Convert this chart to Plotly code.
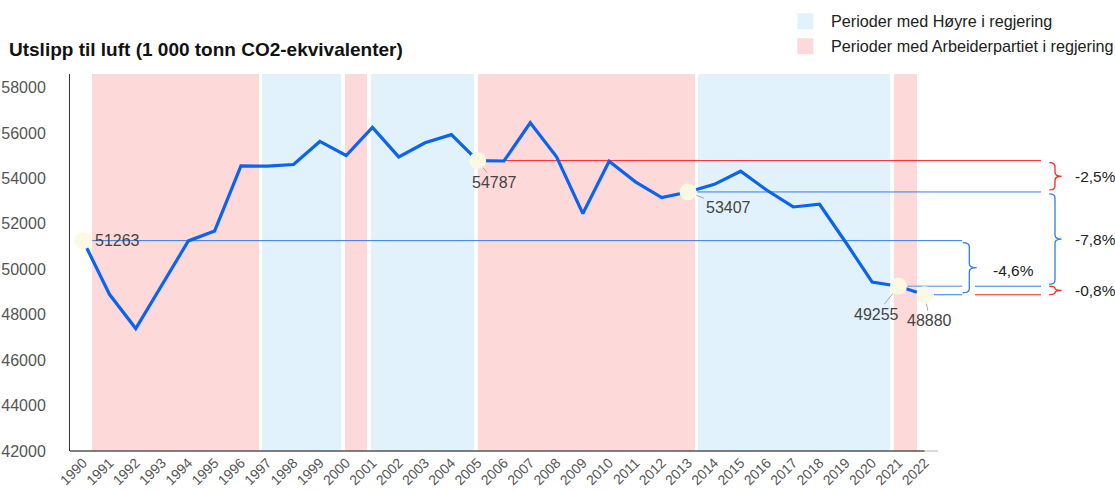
import plotly.graph_objects as go

# ---------------- data ----------------
years = list(range(1990, 2023))
emissions = [51263, 48900, 47390, 49310, 51250, 51690, 54553, 54540, 54614, 55630,
             55010, 56245, 54950, 55570, 55930, 54787, 54770, 56450, 54950, 52455,
             54760, 53850, 53160, 53407, 53740, 54320, 53480, 52745, 52865, 51180,
             49440, 49255, 48880]
y_ticks = [42000, 44000, 46000, 48000, 50000, 52000, 54000, 56000, 58000]

# government periods (fractional years on the chart's time axis)
period_bounds = [1990.28, 1996.74, 1999.89, 2000.88, 2004.94, 2013.32, 2020.76, 2021.79]
period_party = ["Ap", "H", "Ap", "H", "Ap", "H", "Ap"]
party_names = {"H": "Perioder med Høyre i regjering",
               "Ap": "Perioder med Arbeiderpartiet i regjering"}
party_colors = {"H": "#e1f2fd", "Ap": "#fdd9d9"}

highlight_years = [1990, 2005, 2013, 2021, 2022]
title_text = "Utslipp til luft (1 000 tonn CO2-ekvivalenter)"

# ---------------- layout geometry ----------------
W, H = 1115, 491
ML, MR, MT, MB = 70, 0, 74, 40
PW, PH = W - ML - MR, H - MT - MB
X0, PPY = 1989.5, 26.3            # left edge of axis (year) and px per year
Y0, Y1 = 42000, 58600
UPP = (Y1 - Y0) / PH              # data units per px (y)


def xd(px):
    return X0 + (px - ML) / PPY


def px_paper(px):
    return (px - ML) / PW


def py_paper(py):
    return (MT + PH - py) / PH


val = dict(zip(years, emissions))

BLUE = "#0a64f0"
REF_BLUE = "#2f7de6"
REF_LIGHT = "#86b1ef"
RED = "#ff2424"
FONT = "Liberation Sans, Arial, sans-serif"

fig = go.Figure()

# background period bands (bars)
gap = 0.14
for i, party in enumerate(period_party):
    s, e = period_bounds[i], period_bounds[i + 1]
    fig.add_trace(go.Bar(
        x=[(s + e) / 2], y=[Y1 - Y0], base=[Y0], width=[(e - s) - gap],
        marker=dict(color=party_colors[party], line=dict(width=0)),
        showlegend=False, hoverinfo="skip"))


def seg(x0, x1, y, color, width=1):
    fig.add_trace(go.Scatter(x=[x0, x1], y=[y, y], mode="lines",
                             line=dict(color=color, width=width),
                             showlegend=False, hoverinfo="skip"))


off = 0.35
x_end = xd(1041)
x_mid_l = xd(962.2)
x_mid_r = xd(975)

# reference lines
seg(2005 + off, x_end, val[2005], RED)
seg(2013 + off, x_end, val[2013], REF_BLUE)
seg(1990 + off, x_mid_l, val[1990], REF_BLUE)
seg(2021 + off, x_mid_l, val[2021], REF_LIGHT, 1.5)
seg(x_mid_r, x_end, val[2021], REF_BLUE)
seg(2022 + off, x_mid_l, val[2022], REF_BLUE)
seg(x_mid_r, x_end, val[2022], RED)

# main line
fig.add_trace(go.Scatter(x=years, y=emissions, mode="lines",
                         line=dict(color=BLUE, width=3.2),
                         showlegend=False, hoverinfo="skip"))

# highlight markers
fig.add_trace(go.Scatter(x=highlight_years, y=[val[y] for y in highlight_years],
                         mode="markers",
                         marker=dict(size=17, color="#fbf9e3", line=dict(width=0)),
                         showlegend=False, hoverinfo="skip"))


# braces
def brace(xl, xv, xt, ytop, ybot, color):
    hpx = (ytop - ybot) / UPP
    if hpx > 20:
        ytop -= 2 * UPP
        ybot += 2 * UPP
        hpx -= 4
    r = min(4.0, hpx / 4)
    ry = r * UPP
    ym = (ytop + ybot) / 2
    p = (f"M{xl},{ytop} Q{xv},{ytop} {xv},{ytop - ry} "
         f"L{xv},{ym + ry} Q{xv},{ym} {xt},{ym} "
         f"Q{xv},{ym} {xv},{ym - ry} "
         f"L{xv},{ybot + ry} Q{xv},{ybot} {xl},{ybot}")
    fig.add_shape(type="path", path=p, xref="x", yref="y",
                  line=dict(color=color, width=1.3), layer="above")


def pct(a, b):
    v = (val[b] / val[a] - 1) * 100
    return f"{v:.1f}%".replace(".", ",")


bx_l, bx_v, bx_t = xd(1049.3), xd(1055), xd(1061.5)
comparisons = [(2005, 2013, RED), (2013, 2021, REF_BLUE), (2021, 2022, RED)]
for a, b, c in comparisons:
    brace(bx_l, bx_v, bx_t, val[a], val[b], c)
    fig.add_annotation(x=xd(1073), y=(val[a] + val[b]) / 2, text=pct(a, b),
                       xanchor="left", yanchor="middle", showarrow=False,
                       font=dict(family=FONT, size=15.5, color="#222"))

brace(xd(962.7), xd(969.3), xd(976.7), val[1990], val[2022], REF_BLUE)
fig.add_annotation(x=xd(1013.5), y=(val[1990] + val[2022]) / 2, text=pct(1990, 2022),
                   xanchor="center", yanchor="middle", showarrow=False, yshift=-3,
                   font=dict(family=FONT, size=15.5, color="#222"))

# data labels
label_font = dict(family=FONT, size=16, color="#444")
fig.add_annotation(x=1990, y=val[1990], text=str(val[1990]), showarrow=False,
                   xanchor="left", yanchor="middle", xshift=10, font=label_font)
label_offsets = {2005: (17, 22), 2013: (40, 16), 2021: (-22, 28), 2022: (5, 26)}
for yr, (ax, ay) in label_offsets.items():
    fig.add_annotation(x=yr, y=val[yr], text=str(val[yr]), showarrow=True,
                       ax=ax, ay=ay, arrowhead=0, arrowwidth=1, arrowcolor="#aaa",
                       standoff=9, font=label_font)

# bottom axis line
fig.add_shape(type="line", xref="paper", yref="paper",
              x0=0, x1=(2022 - X0) * PPY / PW, y0=0, y1=0,
              line=dict(color="#555", width=1.5))
fig.add_shape(type="line", xref="paper", yref="paper",
              x0=(2022 - X0) * PPY / PW, x1=(2022.5 - X0) * PPY / PW, y0=0, y1=0,
              line=dict(color="#ccc", width=1.5))

# manual legend
for i, party in enumerate(["H", "Ap"]):
    top = 13.3 + 25 * i
    fig.add_shape(type="rect", xref="paper", yref="paper",
                  x0=px_paper(797.3), x1=px_paper(813.3),
                  y0=py_paper(top + 16), y1=py_paper(top),
                  fillcolor=party_colors[party], line=dict(width=0))
    fig.add_annotation(xref="paper", yref="paper", x=px_paper(829), y=py_paper(top + 8),
                       text=party_names[party], showarrow=False,
                       xanchor="left", yanchor="middle",
                       font=dict(family=FONT, size=16.2, color="#222"))

fig.update_layout(
    width=W, height=H,
    margin=dict(l=ML, r=MR, t=MT, b=MB),
    paper_bgcolor="white", plot_bgcolor="white",
    barmode="overlay", bargap=0,
    font=dict(family=FONT),
    title=dict(text=f"<b>{title_text}</b>", xref="container", yref="container",
               x=9 / W, xanchor="left", y=1 - 49 / H, yanchor="middle",
               font=dict(family=FONT, size=19, color="#111")),
    xaxis=dict(range=[X0, X0 + PW / PPY], tickvals=years, ticktext=[str(y) for y in years],
               tickangle=-45, tickfont=dict(family=FONT, size=14, color="#555"),
               showgrid=False, zeroline=False, showline=False, ticks=""),
    yaxis=dict(range=[Y0, Y1], tickvals=y_ticks, ticktext=[str(v) for v in y_ticks],
               tickfont=dict(family=FONT, size=16, color="#555"),
               showgrid=False, zeroline=False, showline=True, linecolor="#333",
               linewidth=1, ticks="outside", ticklen=20, tickcolor="rgba(0,0,0,0)"),
    showlegend=False,
)

fig.write_html("out.html", config={"displayModeBar": False},
               post_script="document.body.style.margin='0px';document.body.style.overflow='hidden';")
